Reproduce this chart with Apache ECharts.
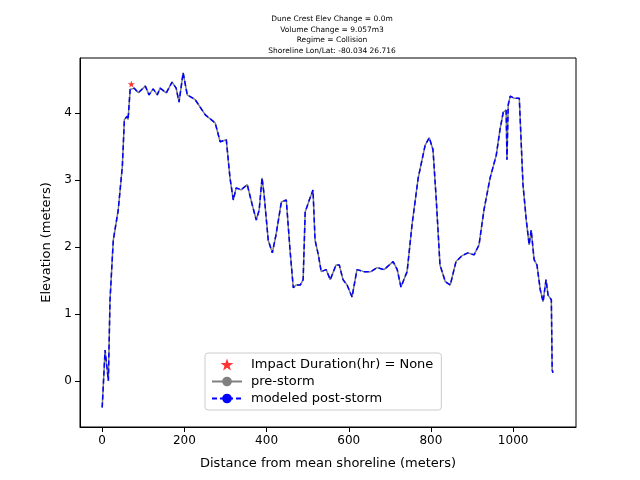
<!DOCTYPE html>
<html>
  <head>
    <meta charset="utf-8" />
    <title>Profile</title>
    <style>body{margin:0}</style>
  </head>
  <body>
    <script src="https://cdn.jsdelivr.net/npm/echarts@6/dist/echarts.min.js"></script>
    <div id="chart" style="width: 640px; height: 480px"></div>
    <script>
      const titleLines = [
        'Dune Crest Elev Change = 0.0m',
        'Volume Change = 9.057m3',
        'Regime = Collision',
        'Shoreline Lon/Lat: -80.034 26.716',
      ];
      const distance = [0, 7, 15, 19, 27, 39, 49, 54, 61, 63, 68, 78, 88, 105, 114, 124, 134, 141, 156, 170, 180, 187, 197, 207, 226, 251, 275, 287, 302, 311, 319, 326, 338, 353, 365, 375, 382, 389, 394, 404, 414, 423, 436, 448, 457, 465, 472, 482, 489, 494, 504, 513, 518, 526, 533, 545, 555, 569, 577, 586, 596, 608, 620, 637, 654, 669, 686, 708, 718, 727, 742, 754, 769, 786, 796, 805, 813, 822, 835, 847, 861, 876, 890, 905, 917, 929, 944, 959, 968, 976, 983, 985, 988, 993, 1002, 1015, 1019, 1024, 1032, 1039, 1044, 1051, 1058, 1066, 1073, 1080, 1085, 1093, 1095, 1097];
      const elevation = [-0.4, 0.46, 0.0, 1.2, 2.1, 2.55, 3.2, 3.9, 3.95, 3.9, 4.35, 4.37, 4.3, 4.4, 4.27, 4.36, 4.27, 4.37, 4.3, 4.46, 4.37, 4.16, 4.6, 4.27, 4.2, 3.97, 3.85, 3.57, 3.6, 3.03, 2.7, 2.88, 2.85, 2.93, 2.63, 2.4, 2.55, 3.03, 2.78, 2.1, 1.91, 2.18, 2.67, 2.7, 1.96, 1.39, 1.43, 1.43, 1.51, 2.52, 2.7, 2.85, 2.1, 1.88, 1.63, 1.66, 1.51, 1.73, 1.73, 1.51, 1.43, 1.25, 1.66, 1.63, 1.63, 1.69, 1.66, 1.78, 1.66, 1.4, 1.63, 2.33, 3.03, 3.52, 3.63, 3.45, 2.7, 1.73, 1.48, 1.43, 1.78, 1.87, 1.91, 1.88, 2.03, 2.55, 3.03, 3.37, 3.75, 4.01, 4.04, 3.3, 4.12, 4.25, 4.22, 4.22, 4.24, 2.93, 2.4, 2.03, 2.25, 1.81, 1.73, 1.36, 1.18, 1.51, 1.28, 1.21, 0.16, 0.12];
      const impactPoint = [71, 4.43];
      const xTicks = [0, 200, 400, 600, 800, 1000];
      const yTicks = [0, 1, 2, 3, 4];

      const profile = distance.map((d, i) => [d, elevation[i]]);
      const font = 'DejaVu Sans';
      const star = 'path://M0,-10 L2.35,-3.24 L9.51,-3.09 L3.8,1.24 L5.88,8.09 L0,4 L-5.88,8.09 L-3.8,1.24 L-9.51,-3.09 L-2.35,-3.24 Z';

      const chart = echarts.init(document.getElementById('chart'));
      chart.setOption({
        animation: false,
        textStyle: { fontFamily: font },
        title: {
          text: titleLines.join('\n'),
          left: 327,
          textAlign: 'center',
          top: 9,
          textStyle: { fontSize: 7.5, fontWeight: 'normal', color: '#000', lineHeight: 10.5, fontFamily: font },
        },
        grid: { left: 80, right: 64, top: 58, bottom: 53 },
        legend: {
          orient: 'vertical',
          left: 205,
          top: 353,
          padding: [5, 8, 5, 6],
          itemGap: 4,
          itemWidth: 30,
          itemHeight: 12,
          borderColor: '#ccc',
          borderWidth: 1,
          borderRadius: 3,
          backgroundColor: 'rgba(255,255,255,0.8)',
          textStyle: { fontSize: 13, color: '#000', fontFamily: font, padding: [0, 0, 0, 4] },
          data: [
            { name: 'Impact Duration(hr) = None', icon: star },
            { name: 'pre-storm' },
            { name: 'modeled post-storm' },
          ],
        },
        xAxis: {
          type: 'value',
          min: -54,
          max: 1153,
          name: 'Distance from mean shoreline (meters)',
          nameLocation: 'middle',
          nameGap: 30,
          nameTextStyle: { fontSize: 13, color: '#000' },
          splitLine: { show: false },
          axisLine: { onZero: false, lineStyle: { color: '#000' } },
          axisTick: { customValues: xTicks, lineStyle: { color: '#000' } },
          axisLabel: { customValues: xTicks, color: '#000', fontSize: 12, formatter: (v) => String(v) },
        },
        yAxis: {
          type: 'value',
          min: -0.69,
          max: 4.82,
          name: 'Elevation (meters)',
          nameLocation: 'middle',
          nameGap: 26,
          nameTextStyle: { fontSize: 13, color: '#000' },
          splitLine: { show: false },
          axisLine: { show: true, onZero: false, lineStyle: { color: '#000' } },
          axisTick: { show: true, customValues: yTicks, lineStyle: { color: '#000' } },
          axisLabel: { customValues: yTicks, color: '#000', fontSize: 12 },
        },
        series: [
          {
            name: 'Impact Duration(hr) = None',
            type: 'scatter',
            data: [impactPoint],
            symbol: star,
            symbolSize: 7,
            itemStyle: { color: 'red' },
            z: 5,
          },
          {
            name: 'pre-storm',
            type: 'line',
            data: profile,
            symbol: 'none',
            color: 'gray',
            lineStyle: { color: 'gray', width: 1.5 },
          },
          {
            name: 'modeled post-storm',
            type: 'line',
            data: profile,
            symbol: 'none',
            color: 'blue',
            lineStyle: { color: 'blue', width: 1.5, type: [5, 3] },
          },
        ],
        graphic: [
          { type: 'rect', shape: { x: 80, y: 58, width: 496, height: 369 }, style: { fill: 'none', stroke: '#000', lineWidth: 1 }, silent: true },
        ],
      });
    </script>
  </body>
</html>
